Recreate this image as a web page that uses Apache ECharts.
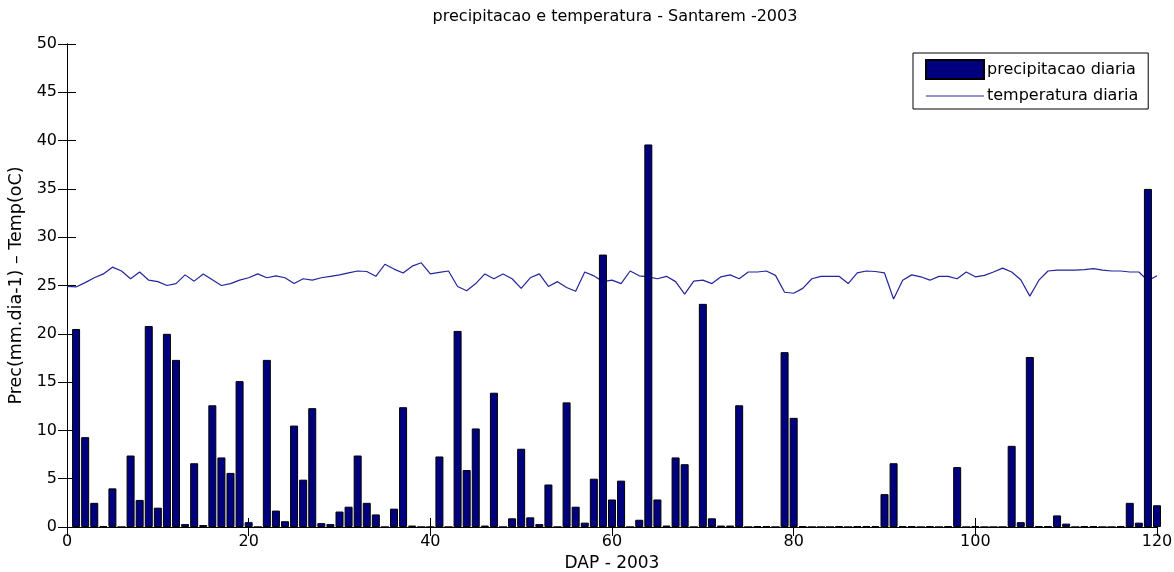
<!DOCTYPE html>
<html>
<head>
<meta charset="utf-8">
<script src="https://cdn.jsdelivr.net/npm/echarts@6/dist/echarts.min.js"></script>
<style>html,body{margin:0;padding:0;background:#fff}#c{width:1174px;height:572px}</style>
</head>
<body>
<div id="c"></div>
<script>
// precipitation, days 1..120
const precip = [
 20.5, 9.3, 2.5, 0.1, 4.0, 0, 7.4, 2.8, 20.8, 2.0,
 20.0, 17.3, 0.3, 6.6, 0.2, 12.6, 7.2, 5.6, 15.1, 0.5,
 0, 17.3, 1.7, 0.6, 10.5, 4.9, 12.3, 0.4, 0.3, 1.6,
 2.1, 7.4, 2.5, 1.3, 0, 1.9, 12.4, 0.15, 0, 0,
 7.3, 0, 20.3, 5.9, 10.2, 0.15, 13.9, 0, 0.9, 8.1,
 1.0, 0.3, 4.4, 0, 12.9, 2.1, 0.45, 5.0, 28.2, 2.85,
 4.8, 0, 0.75, 39.6, 2.85, 0.15, 7.2, 6.5, 0, 23.1,
 0.9, 0.15, 0.15, 12.6, 0, 0.1, 0.1, 0, 18.1, 11.3,
 0.1, 0, 0, 0, 0.1, 0, 0.1, 0.1, 0.1, 3.4,
 6.6, 0.1, 0.1, 0, 0.1, 0, 0.1, 6.2, 0, 0.1,
 0, 0, 0, 8.4, 0.5, 17.6, 0.1, 0.1, 1.2, 0.35,
 0, 0.1, 0.1, 0, 0, 0.1, 2.5, 0.45, 35.0, 2.25
];
// temperature, days 0..120
const temp = [
 24.9, 24.85, 25.3, 25.8, 26.2, 26.9, 26.5, 25.7, 26.4, 25.55,
 25.4, 25.0, 25.2, 26.1, 25.45, 26.2, 25.6, 25.0, 25.2, 25.55,
 25.8, 26.2, 25.8, 26.0, 25.8, 25.2, 25.7, 25.55, 25.8, 25.95,
 26.1, 26.3, 26.5, 26.45, 25.95, 27.2, 26.7, 26.3, 27.0, 27.35,
 26.2, 26.35, 26.5, 24.9, 24.45, 25.2, 26.2, 25.7, 26.2, 25.7,
 24.7, 25.8, 26.2, 24.9, 25.4, 24.8, 24.4, 26.4, 26.0, 25.4,
 25.55, 25.2, 26.5, 26.0, 25.9, 25.7, 25.95, 25.4, 24.1, 25.45,
 25.55, 25.2, 25.9, 26.1, 25.7, 26.4, 26.4, 26.5, 26.05, 24.3,
 24.2, 24.7, 25.7, 25.95, 25.95, 25.95, 25.2, 26.3, 26.5, 26.45,
 26.3, 23.6, 25.55, 26.1, 25.9, 25.55, 25.95, 25.95, 25.7, 26.4,
 25.9, 26.05, 26.4, 26.8, 26.4, 25.6, 23.9, 25.55, 26.5, 26.6,
 26.6, 26.6, 26.65, 26.75, 26.6, 26.5, 26.5, 26.4, 26.4, 25.5,
 26.0
];
const xTicks = [0, 20, 40, 60, 80, 100, 120];
const yTicks = [0, 5, 10, 15, 20, 25, 30, 35, 40, 45, 50];

const precipData = precip.map((v, i) => [i + 1, v]);
const tempData = temp.map((v, i) => [i, v]);

const FONT = 'DejaVu Sans';
const chart = echarts.init(document.getElementById('c'), null, {renderer: 'canvas'});
const xBase = {
  type: 'value', min: xTicks[0], max: xTicks[xTicks.length - 1], interval: 20,
  splitLine: {show: false},
  axisLine: {lineStyle: {color: '#000', width: 1}},
  axisTick: {inside: true, length: 9, lineStyle: {color: '#000'}}
};
const yBase = {
  type: 'value', min: yTicks[0], max: yTicks[yTicks.length - 1], interval: 5,
  splitLine: {show: false},
  axisLine: {show: true, lineStyle: {color: '#000', width: 1}},
  axisTick: {show: true, inside: true, length: 9, lineStyle: {color: '#000'}}
};
chart.setOption({
  animation: false,
  backgroundColor: '#fff',
  title: {
    text: 'precipitacao e temperatura - Santarem -2003',
    left: 610, top: 4, textAlign: 'center',
    textStyle: {fontFamily: FONT, fontSize: 16, fontWeight: 'normal', color: '#000'}
  },
  grid: {left: 67, right: 17, top: 44, bottom: 45, containLabel: false, outerBoundsMode: 'none'},
  legend: {
    orient: 'vertical', left: 913, top: 53,
    padding: [6, 10, 5, 12], itemGap: 8, itemWidth: 58, itemHeight: 19,
    borderColor: '#000', borderWidth: 1, backgroundColor: '#fff',
    textStyle: {fontFamily: FONT, fontSize: 16, color: '#000', padding: [0, 0, 0, -2]},
    data: [
      {name: 'precipitacao diaria', icon: 'rect'},
      {name: 'temperatura diaria', itemStyle: {opacity: 0}, lineStyle: {color: '#24249c', width: 1.2, opacity: 1}}
    ]
  },
  xAxis: [
    Object.assign({}, xBase, {
      position: 'bottom',
      name: 'DAP - 2003', nameLocation: 'middle', nameGap: 27,
      nameTextStyle: {fontFamily: FONT, fontSize: 17, color: '#000'},
      axisLabel: {fontFamily: FONT, fontSize: 16, color: '#000', margin: 7}
    }),
    Object.assign({}, xBase, {position: 'top', axisLabel: {show: false}})
  ],
  yAxis: [
    Object.assign({}, yBase, {
      position: 'left',
      name: 'Prec(mm.dia-1) – Temp(oC)', nameLocation: 'middle', nameGap: 40,
      nameTextStyle: {fontFamily: FONT, fontSize: 17.5, color: '#000'},
      axisLabel: {fontFamily: FONT, fontSize: 16, color: '#000', margin: 10}
    }),
    Object.assign({}, yBase, {position: 'right', axisLabel: {show: false}})
  ],
  series: [
    {
      name: 'temperatura diaria', type: 'line', data: tempData,
      xAxisIndex: 0, yAxisIndex: 0,
      symbol: 'none', showSymbol: false, z: 2,
      lineStyle: {color: '#24249c', width: 1.2},
      itemStyle: {color: '#24249c'}
    },
    {
      name: 'precipitacao diaria', type: 'bar', data: precipData,
      xAxisIndex: 0, yAxisIndex: 0,
      barWidth: 8, z: 3,
      itemStyle: {color: '#00007f', borderColor: '#000', borderWidth: 1}
    }
  ]
});
</script>
</body>
</html>
